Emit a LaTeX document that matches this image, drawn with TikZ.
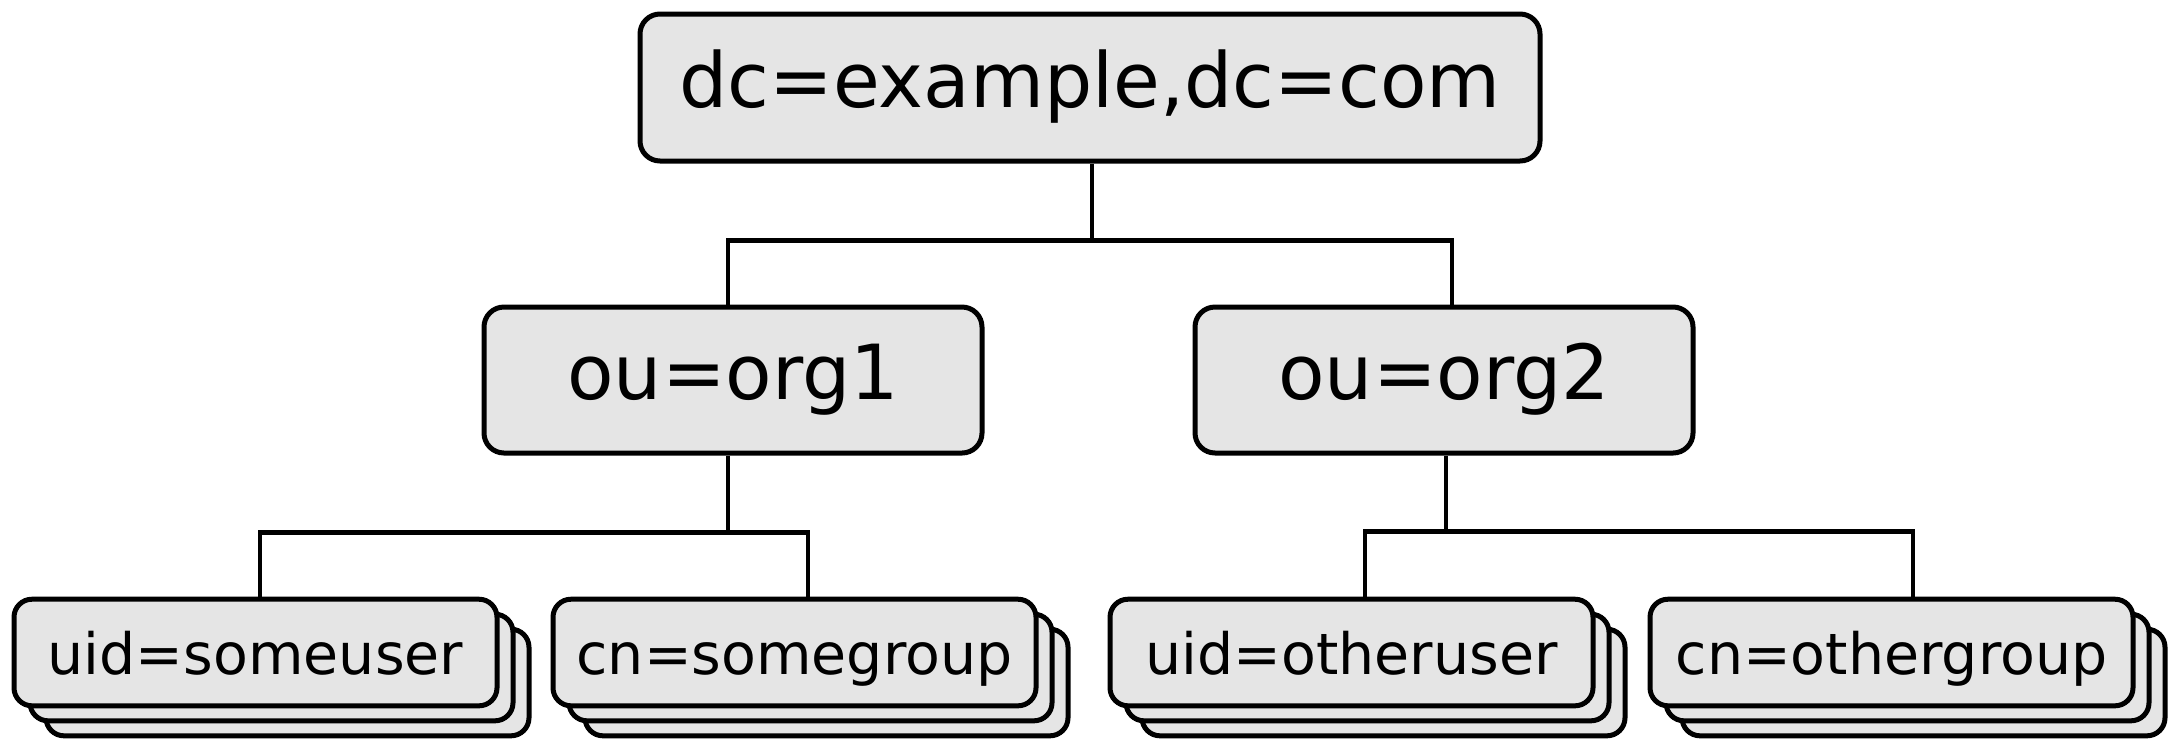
\documentclass[tikz,border=0pt]{standalone}
\usepackage{fontspec}
\setmainfont{DejaVu Sans}
\usetikzlibrary{calc}
\definecolor{entryfill}{RGB}{229,229,229}
\tikzset{
  entry/.style={draw=black, fill=entryfill, line width=2.5pt, rounded corners=10pt,
    inner sep=0pt, align=center},
  bigentry/.style={entry, font=\fontsize{38}{46}\selectfont,
    text height=28.9pt, text depth=9.1pt},
  rootentry/.style={bigentry, minimum width=450pt, minimum height=73.5pt},
  ouentry/.style={bigentry, minimum width=249pt, minimum height=73pt},
  leafentry/.style={entry, rounded corners=9pt, font=\fontsize{28.5}{34}\selectfont,
    text height=21.7pt, text depth=0pt, minimum width=241.5pt, minimum height=53.3pt},
  link/.style={draw=black, line width=2.3pt},
}
% a leaf entry drawn as a stack of three cards: name, x, y, label
\newcommand\leafstack[4]{%
  \node[leafentry] (#1c) at (#2+32,#3+30) {};
  \node[leafentry] (#1b) at (#2+16,#3+15) {};
  \node[leafentry] (#1) at (#2,#3) {#4};
}
\begin{document}
\begin{tikzpicture}[x=0.5pt,y=-0.5pt]
\useasboundingbox (0,0) rectangle (2168,741);

% directory tree entries
\node[rootentry] (top) at (1090,87.5) {dc=example,dc=com};
\node[ouentry] (org1) at (733,380) {ou=org1};
\node[ouentry] (org2) at (1444,380) {ou=org2};

\leafstack{uid1}{255.5}{652.5}{uid=someuser}
\leafstack{cn1}{794.5}{652.5}{cn=somegroup}
\leafstack{uid2}{1351.5}{652.5}{uid=otheruser}
\leafstack{cn2}{1891.5}{652.5}{cn=othergroup}

% tree connectors
\draw[link] ($(top.south)+(2,0)$) -- ++(0,77) coordinate (busA);
\draw[link] ($(org1.north)+(-5,0)$) |- (busA) -| ($(org2.north)+(8,0)$);

\draw[link] ($(org1.south)+(-5,0)$) -- ++(0,77) coordinate (busB);
\draw[link] ($(uid1.north)+(4.5,0)$) |- (busB) -| ($(cn1.north)+(13.5,0)$);

\draw[link] ($(org2.south)+(2,0)$) -- ++(0,76) coordinate (busC);
\draw[link] ($(uid2.north)+(13.5,0)$) |- (busC) -| ($(cn2.north)+(21.5,0)$);
\end{tikzpicture}
\end{document}
